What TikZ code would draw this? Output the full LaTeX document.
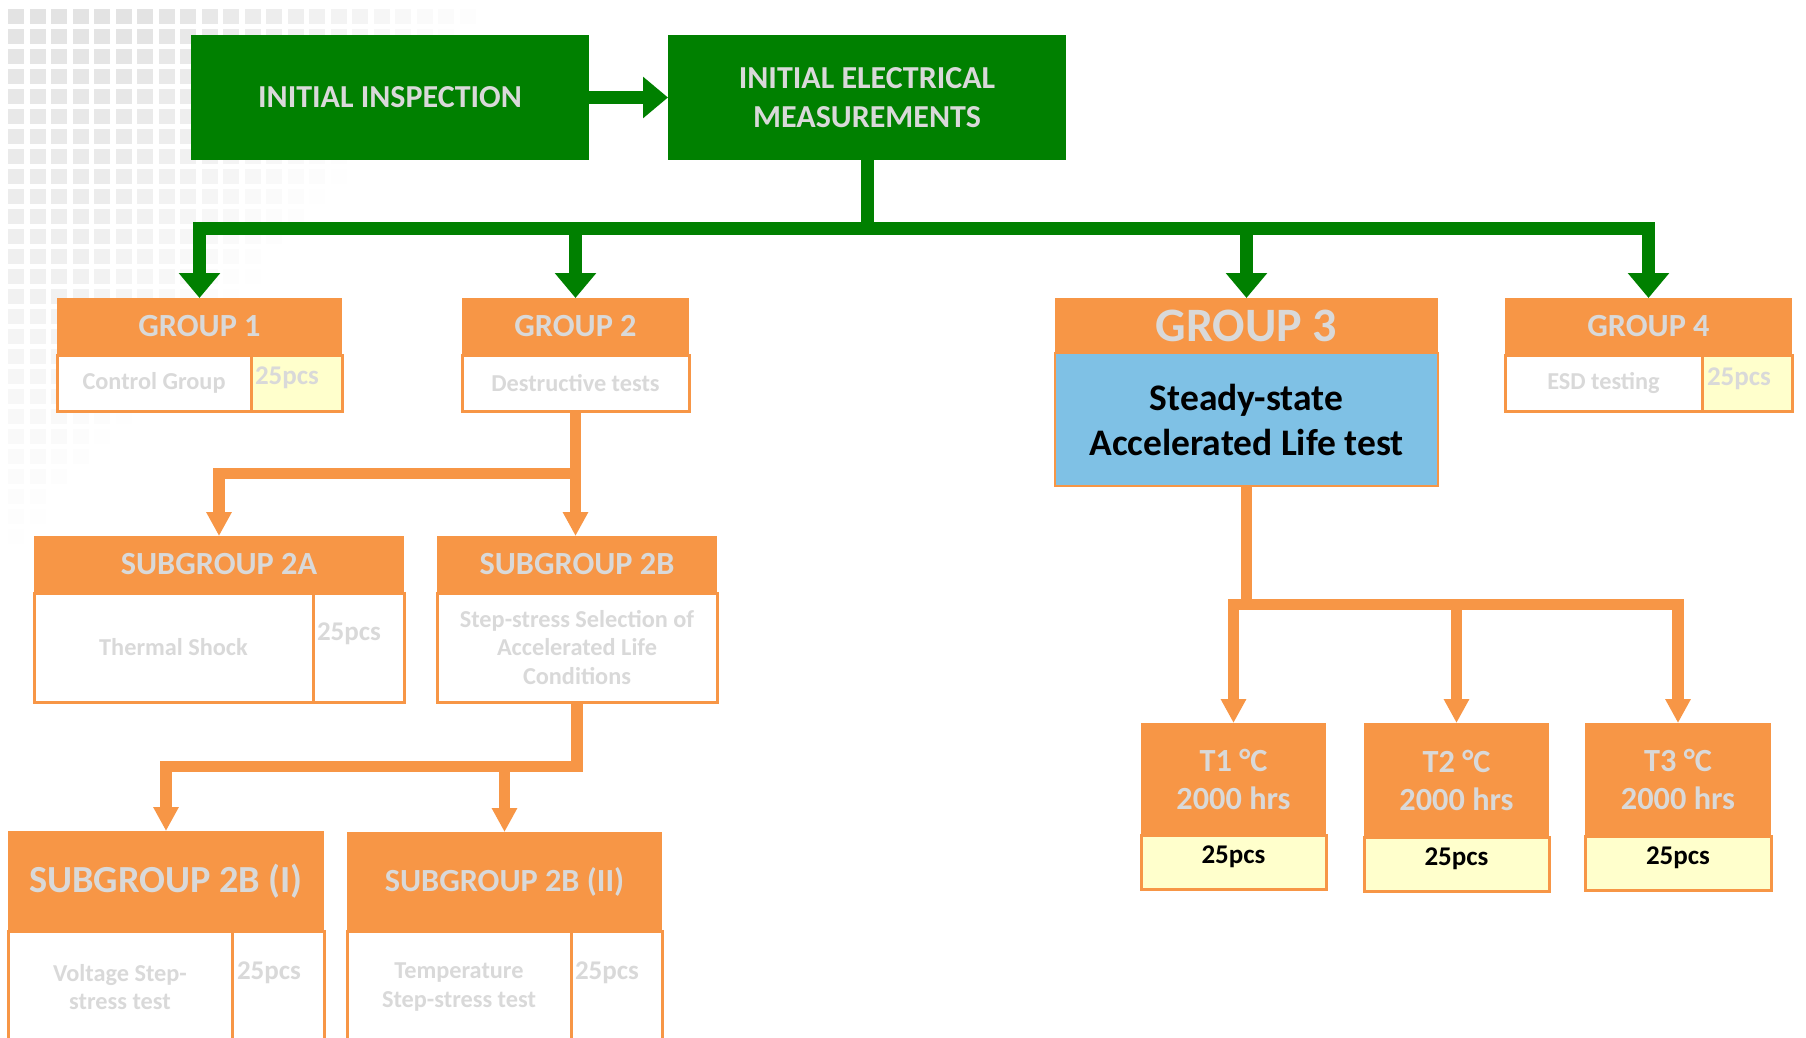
\documentclass[tikz,border=0pt]{standalone}
\usepackage{fontspec}
\setmainfont{Carlito}
\usetikzlibrary{arrows.meta}
\definecolor{ggreen}{RGB}{0,128,0}
\definecolor{orng}{RGB}{247,150,70}
\definecolor{lyel}{RGB}{255,255,204}
\definecolor{lgray}{RGB}{217,217,217}
\definecolor{lblue}{RGB}{127,193,229}
\begin{document}
\begin{tikzpicture}[x=1pt,y=-1pt,
  cell/.style={anchor=north west, inner sep=0pt, outer sep=0pt, align=center},
  gbox/.style={cell, fill=ggreen, text=lgray, font=\bfseries\fontsize{32}{38.5}\selectfont},
  hdr/.style={cell, fill=orng, text=lgray, font=\bfseries\fontsize{32.3}{38}\selectfont},
  body/.style={cell, draw=orng, line width=3pt, fill=white, text=lgray, font=\bfseries\fontsize{24.3}{28.5}\selectfont},
  ybody/.style={body, fill=lyel},
  pcs/.style={anchor=north west, inner sep=0pt, outer sep=0pt, text=lgray, font=\bfseries\fontsize{27}{30}\selectfont},
  tpcs/.style={ybody, text=black, font=\bfseries\fontsize{27}{30}\selectfont, text height=17pt, text depth=15pt},
  gline/.style={ggreen, line width=13pt, line join=miter},
  garrow/.style={gline, -{Triangle[width=40pt,length=25pt]}},
  oarrow/.style={orng, line width=11.5pt, line join=miter, -{Triangle[width=24pt,length=24pt]}},
  bgsq/.style={fill=black!11}
]
\useasboundingbox (0,0) rectangle (1806,1038);
\clip (0,0) rectangle (1806,1038);
\fill[white] (0,0) rectangle (1806,1038);

% background square pattern
\foreach \i in {0,...,22} {
  \foreach \j in {0,...,26} {
    \pgfmathsetmacro\xx{8+21.5*\i}
    \pgfmathsetmacro\yy{9+20*\j}
    \pgfmathsetmacro\xm{485-0.88*\yy}
    \pgfmathsetmacro\op{max(0,min(1,1.4*(1-\xx/\xm)))*max(0,1-\yy/540)}
    \ifdim\op pt>0.01pt
      \fill[bgsq, opacity=\op] (\xx,\yy) rectangle ++(16,15);
    \fi
  }
}

% top boxes
\node[gbox, minimum width=398, minimum height=125] (insp) at (191,35) {INITIAL INSPECTION};
\node[gbox, minimum width=398, minimum height=125] (elec) at (668,35) {INITIAL ELECTRICAL\\MEASUREMENTS};

% group 1
\node[hdr, minimum width=285, minimum height=57] (g1h) at (57,298) {GROUP 1};
\node[body, minimum width=194, minimum height=56] (g1b) at (57,355) {Control Group};
\node[ybody, minimum width=91, minimum height=56] (g1y) at (251,355) {};
\node[pcs] (g1p) at (255,367) {25pcs};

% group 2
\node[hdr, minimum width=227, minimum height=57] (g2h) at (462,298) {GROUP 2};
\node[body, minimum width=227, minimum height=56] (g2b) at (462,355) {Destructive tests};

% group 3
\node[hdr, minimum width=383, minimum height=55, font=\bfseries\fontsize{48}{52}\selectfont] (g3h) at (1055,298) {GROUP 3};
\node[body, fill=lblue, line width=2.5pt, minimum width=383, minimum height=133, text=black, font=\bfseries\fontsize{37.5}{45}\selectfont] (g3b) at (1055,353) {Steady-state\\Accelerated Life test};

% group 4
\node[hdr, minimum width=287, minimum height=57] (g4h) at (1505,298) {GROUP 4};
\node[body, minimum width=197, minimum height=56] (g4b) at (1505,355) {ESD testing};
\node[ybody, minimum width=90, minimum height=56] (g4y) at (1702,355) {};
\node[pcs] (g4p) at (1707,368) {25pcs};

% subgroup 2A
\node[hdr, minimum width=370, minimum height=57] (sg2ah) at (34,536) {SUBGROUP 2A};
\node[body, minimum width=279, minimum height=109] (sg2ab) at (34,593) {Thermal Shock};
\node[body, minimum width=91, minimum height=109] (sg2ay) at (313,593) {};
\node[pcs] (sg2ap) at (317,623) {25pcs};

% subgroup 2B
\node[hdr, minimum width=280, minimum height=57] (sg2bh) at (437,536) {SUBGROUP 2B};
\node[body, minimum width=280, minimum height=109] (sg2bb) at (437,593) {Step-stress Selection of\\Accelerated Life\\Conditions};

% subgroup 2B (I)
\node[hdr, minimum width=316, minimum height=100, font=\bfseries\fontsize{38.3}{42}\selectfont] (s2b1h) at (8,831) {SUBGROUP 2B (I)};
\node[body, minimum width=224, minimum height=112] (s2b1b) at (8,931) {Voltage Step-\\stress test};
\node[body, minimum width=92, minimum height=112] (s2b1y) at (232,931) {};
\node[pcs] (s2b1p) at (237,962) {25pcs};

% subgroup 2B (II)
\node[hdr, minimum width=315, minimum height=99, font=\bfseries\fontsize{32.3}{36}\selectfont] (s2b2h) at (347,832) {SUBGROUP 2B (II)};
\node[body, minimum width=224, minimum height=112] (s2b2b) at (347,931) {Temperature\\Step-stress test};
\node[body, minimum width=91, minimum height=112] (s2b2y) at (571,931) {};
\node[pcs] (s2b2p) at (575,962) {25pcs};

% T boxes
\node[hdr, minimum width=185, minimum height=112] (t1h) at (1141,723) {T1 °C\\2000 hrs};
\node[tpcs, minimum width=185, minimum height=54] (t1b) at (1141,835) {25pcs};
\node[hdr, minimum width=185, minimum height=114] (t2h) at (1364,723) {T2 °C\\2000 hrs};
\node[tpcs, minimum width=185, minimum height=54] (t2b) at (1364,837) {25pcs};
\node[hdr, minimum width=186, minimum height=113] (t3h) at (1585,723) {T3 °C\\2000 hrs};
\node[tpcs, minimum width=186, minimum height=54] (t3b) at (1585,836) {25pcs};

% green connectors
\draw[garrow] (insp.east) -- (elec.west);
\coordinate (jg) at (867,228.5);
\draw[garrow] (elec.south) -- (elec.south |- jg) -| (g1h.north);
\draw[garrow] (elec.south) -- (elec.south |- jg) -| (g2h.north);
\draw[garrow] (elec.south) -- (elec.south |- jg) -| (g3h.north);
\draw[garrow] (elec.south) -- (elec.south |- jg) -| (g4h.north);

% orange connectors, group 2
\coordinate (j2) at (576,473.5);
\draw[oarrow] (g2b.south) -- (g2b.south |- sg2bh.north);
\draw[oarrow] (g2b.south |- j2) -| (sg2ah.north);

% orange connectors, subgroup 2B
\coordinate (j4) at (577,766.5);
\draw[oarrow] (sg2bb.south) -- (sg2bb.south |- j4) -| (s2b1h.north);
\draw[oarrow] (sg2bb.south |- j4) -| (s2b2h.north);

% orange connectors, group 3
\coordinate (j3) at (1247,604.5);
\draw[oarrow] (g3b.south) -- (g3b.south |- j3) -| (t1h.north);
\draw[oarrow] (g3b.south |- j3) -| (t2h.north);
\draw[oarrow] (g3b.south |- j3) -| (t3h.north);
\end{tikzpicture}
\end{document}
